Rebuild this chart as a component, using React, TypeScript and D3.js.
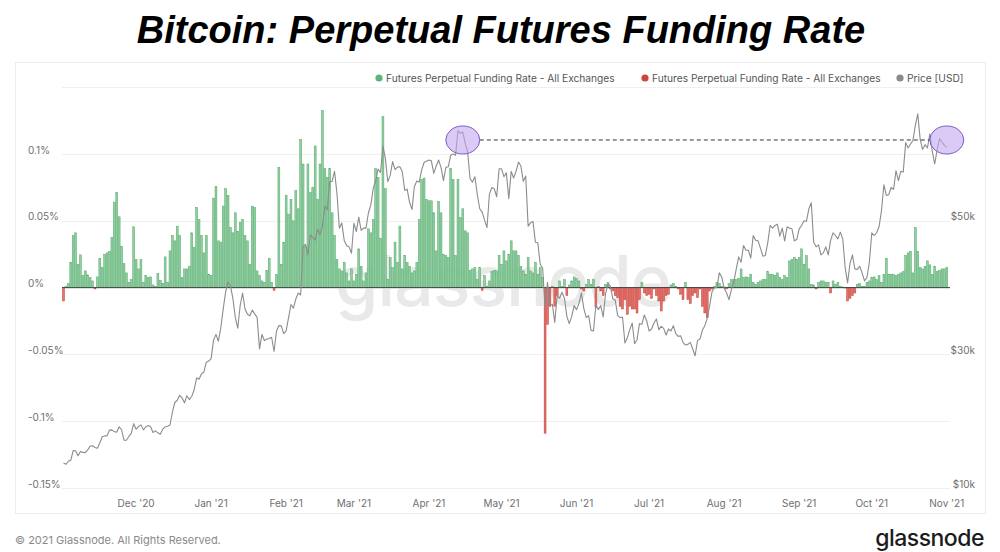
import React, { useEffect, useRef } from 'react';
import * as d3 from 'd3';

// Daily funding rate (%), one array per month
const fundingNov20 = [-0.010, 0.001, 0.003, 0.019, 0.039, 0.041, 0.0175, 0.0245, 0.009, 0.0125, 0.0095, 0.0075, 0.005, -0.001, 0.008, 0.022, 0.015, 0.025, 0.026, 0.027, 0.0375, 0.064, 0.071, 0.053, 0.031, 0.018, 0.011, 0.004, 0.006, 0.0455];
const fundingDec20 = [0.021, 0.014, 0.021, 0.004, 0.009, 0.0075, 0.008, 0.002, 0.001, 0.0105, 0.0055, 0.003, 0.023, 0.004, 0.0275, 0.039, 0.035, 0.046, 0.039, 0.0075, 0.014, 0.014, 0.016, 0.041, 0.030, 0.060, 0.051, 0.039, 0.026, 0.039, 0.010];
const fundingJan21 = [0.009, 0.067, 0.0755, 0.035, 0.034, 0.061, 0.074, 0.069, 0.045, 0.041, 0.056, 0.042, 0.049, 0.051, 0.039, 0.035, 0.0175, 0.061, 0.060, 0.0125, 0.009, 0.005, 0.004, 0.013, 0.022, 0.004, -0.002, 0.010, 0.090, 0.0175, 0.034];
const fundingFeb21 = [0.069, 0.055, 0.066, 0.050, 0.0725, 0.059, 0.111, 0.0925, 0.031, 0.0925, 0.071, 0.075, 0.106, 0.066, 0.0925, 0.1325, 0.089, 0.0825, 0.089, 0.056, 0.039, 0.021, 0.014, 0.0125, 0.019, 0.011, 0.005, 0.014];
const fundingMar21 = [0.005, 0.010, 0.029, 0.016, 0.005, 0.011, 0.044, 0.041, 0.051, 0.089, 0.0825, 0.037, 0.128, 0.074, 0.006, 0.0225, 0.015, 0.034, 0.019, 0.046, 0.014, 0.024, 0.019, 0.016, 0.011, 0.0125, 0.019, 0.051, 0.081, 0.082, 0.066];
const fundingApr21 = [0.065, 0.065, 0.056, 0.0275, 0.0645, 0.056, 0.025, 0.024, 0.0225, 0.089, 0.081, 0.024, 0.081, 0.0525, 0.059, 0.0425, 0.041, 0.013, 0.014, 0.015, 0.006, 0.015, -0.002, 0.009, 0.001, 0.005, 0.012, 0.013, 0.0125, 0.024];
const fundingMay21 = [0.0175, 0.0275, 0.020, 0.025, 0.035, 0.0275, 0.0275, 0.024, 0.016, 0.0125, 0.010, 0.0225, 0.0125, 0.011, 0.019, 0.010, 0.015, 0.0075, -0.109, -0.0275, -0.014, 0.001, -0.014, -0.006, 0.005, 0.001, 0.006, -0.006, 0.002, 0.005, 0.008];
const fundingJun21 = [0.007, 0.005, -0.001, -0.0025, 0.0025, 0.006, 0.0025, 0.006, -0.015, 0.001, -0.0025, -0.006, 0.0025, 0.004, -0.001, -0.0025, -0.006, -0.0075, -0.014, -0.016, -0.009, -0.020, -0.014, -0.016, -0.016, -0.019, -0.009, 0.004, -0.004, -0.006];
const fundingJul21 = [-0.005, -0.008, -0.001, -0.006, -0.010, -0.0175, -0.010, -0.006, -0.005, 0.002, 0.003, 0.001, -0.001, -0.005, -0.009, 0.004, -0.009, -0.012, -0.006, -0.004, -0.0075, -0.001, -0.014, -0.019, -0.0225, -0.0025, -0.001, 0.001, 0.004, 0.003, 0.001];
const fundingAug21 = [0.0005, -0.001, 0.003, 0.006, 0.006, 0.006, 0.007, 0.014, 0.0075, 0.008, 0.0075, 0.010, 0.004, 0.0025, 0.004, 0.005, 0.006, 0.006, 0.012, 0.010, 0.010, 0.009, 0.011, 0.0075, 0.006, 0.009, 0.0075, 0.020, 0.021, 0.0225, 0.021];
const fundingSep21 = [0.0225, 0.029, 0.0175, 0.024, 0.014, 0.0025, 0.002, -0.001, 0.004, 0.005, 0.005, 0.004, 0.004, -0.004, 0.005, 0.0025, 0.004, 0.001, 0.0005, -0.0003, -0.010, -0.008, -0.006, -0.004, 0.0025, 0.003, 0.001, 0.001, 0.004, 0.005];
const fundingOct21 = [0.0075, 0.008, 0.006, 0.009, 0.004, 0.010, 0.022, 0.010, 0.010, 0.010, 0.009, 0.010, 0.011, 0.012, 0.024, 0.026, 0.027, 0.011, 0.045, 0.027, 0.015, 0.014, 0.016, 0.020, 0.017, 0.010, 0.016, 0.012, 0.013, 0.014, 0.014];
const fundingNov21 = [0.015];

// Daily BTC price ($k), one array per month
const priceNov20 = [13.74, 13.55, 14.0, 14.15, 15.59, 15.58, 14.83, 15.48, 15.33, 15.3, 15.7, 16.28, 16.32, 16.07, 15.96, 16.73, 17.66, 17.8, 17.82, 18.66, 18.7, 18.41, 18.37, 19.16, 18.72, 17.15, 17.14, 17.72, 18.18, 19.63];
const priceDec20 = [18.8, 19.2, 19.45, 18.7, 19.15, 19.36, 19.17, 18.32, 18.55, 18.26, 18.06, 18.8, 19.14, 19.25, 19.43, 21.38, 22.8, 23.14, 23.87, 23.48, 22.75, 23.82, 23.24, 23.73, 24.71, 26.49, 26.28, 27.08, 27.36, 28.84, 29.0];
const priceJan21 = [29.37, 32.13, 33.0, 31.97, 33.99, 36.82, 39.37, 40.8, 40.25, 38.36, 35.5, 33.92, 37.32, 39.19, 36.83, 36.02, 35.79, 36.63, 36.07, 35.55, 30.83, 32.99, 32.07, 32.29, 32.37, 32.57, 30.43, 33.47, 34.32, 34.27, 33.11];
const priceFeb21 = [33.52, 35.51, 37.47, 36.93, 38.29, 39.19, 38.9, 46.2, 46.48, 44.92, 47.91, 47.5, 47.1, 48.72, 47.94, 49.2, 52.15, 51.68, 55.89, 55.89, 57.41, 54.09, 48.89, 49.68, 47.06, 46.28, 46.1, 45.14];
const priceMar21 = [49.63, 48.38, 50.54, 48.56, 48.93, 48.91, 51.21, 52.38, 54.88, 55.96, 57.75, 57.23, 61.2, 59.34, 55.86, 56.8, 58.87, 57.65, 58.03, 58.1, 57.35, 54.53, 54.74, 52.77, 51.7, 55.14, 55.97, 55.78, 57.63, 58.73, 58.92];
const priceApr21 = [59.1, 59.0, 57.1, 58.2, 59.1, 58.0, 56.0, 58.0, 58.1, 59.8, 60.0, 59.8, 63.5, 63.1, 63.3, 61.6, 60.3, 56.3, 55.8, 56.6, 53.9, 51.8, 51.3, 50.1, 49.0, 54.0, 55.0, 54.8, 53.6, 57.8];
const priceMay21 = [57.8, 56.6, 57.2, 53.3, 57.4, 56.4, 57.4, 58.8, 58.2, 55.9, 56.7, 49.2, 49.7, 49.9, 46.8, 46.7, 43.5, 42.9, 37.0, 40.8, 37.3, 37.5, 34.8, 38.8, 38.4, 39.3, 38.4, 35.7, 34.6, 35.7, 37.3];
const priceJun21 = [36.7, 37.6, 39.2, 36.9, 35.5, 35.8, 33.6, 33.5, 37.4, 36.7, 37.3, 35.6, 39.1, 40.5, 40.2, 38.3, 38.1, 35.8, 35.5, 35.6, 31.7, 32.5, 33.7, 34.7, 31.6, 32.2, 34.6, 34.5, 35.9, 35.0];
const priceJul21 = [33.5, 33.8, 34.7, 35.3, 33.7, 34.2, 33.9, 32.9, 33.8, 33.5, 34.3, 33.1, 32.7, 32.8, 31.8, 31.4, 31.5, 31.8, 30.8, 29.8, 32.1, 32.3, 33.6, 34.3, 35.4, 37.3, 39.4, 40.0, 40.0, 42.2, 41.6];
const priceAug21 = [39.9, 39.2, 38.2, 39.7, 40.9, 42.8, 44.6, 43.8, 46.3, 45.6, 45.6, 44.4, 47.8, 47.1, 47.0, 45.9, 44.7, 44.8, 46.7, 49.3, 48.9, 49.3, 49.5, 47.7, 48.9, 47.0, 49.1, 48.9, 48.8, 47.0, 47.2];
const priceSep21 = [48.8, 49.3, 50.0, 49.9, 51.8, 52.7, 46.8, 46.1, 46.4, 44.9, 45.2, 46.1, 44.9, 47.1, 48.2, 47.8, 47.3, 48.3, 47.3, 43.0, 40.7, 43.6, 44.9, 42.8, 42.7, 43.2, 42.2, 41.0, 41.5, 43.8];
const priceOct21 = [48.2, 47.8, 48.2, 49.1, 51.5, 55.4, 53.8, 53.9, 55.0, 54.7, 57.5, 56.0, 57.4, 57.3, 61.7, 60.9, 61.5, 62.0, 64.3, 66.0, 62.2, 60.7, 61.4, 60.9, 63.0, 60.4, 58.5, 60.6, 62.3, 61.8, 61.3];
const priceNov21 = [61.0];

const fundingMonths = [fundingNov20, fundingDec20, fundingJan21, fundingFeb21, fundingMar21, fundingApr21, fundingMay21, fundingJun21, fundingJul21, fundingAug21, fundingSep21, fundingOct21, fundingNov21];
const priceMonths = [priceNov20, priceDec20, priceJan21, priceFeb21, priceMar21, priceApr21, priceMay21, priceJun21, priceJul21, priceAug21, priceSep21, priceOct21, priceNov21];

const rateTicks = [-0.15, -0.1, -0.05, 0, 0.05, 0.1, 0.15];
const rateTickLabels = ['-0.15%', '-0.1%', '-0.05%', '0%', '0.05%', '0.1%', ''];
const priceTicks = [10, 30, 50];
const priceTickLabels = ['$10k', '$30k', '$50k'];
const monthLabels = ["Dec '20", "Jan '21", "Feb '21", "Mar '21", "Apr '21", "May '21", "Jun '21", "Jul '21", "Aug '21", "Sep '21", "Oct '21", "Nov '21"];

const legendLabels = ['Futures Perpetual Funding Rate - All Exchanges', 'Futures Perpetual Funding Rate - All Exchanges', 'Price [USD]'];
const legendColors = ['#5fb479', '#d2413b', '#8a8a8a'];

// highlighted price level (in $k) and the two days it is compared on
const markedPrice = 62.1;
const markedDays = [new Date(2021, 3, 15), new Date(2021, 10, 1)];

const startDate = new Date(2020, 10, 1);
const endDate = new Date(2021, 10, 1);

const FONT = 'Inter, "Noto Sans", sans-serif';

const FundingChart: React.FC = () => {
  const svgRef = useRef<SVGSVGElement>(null);

  useEffect(() => {
    if (!svgRef.current) return;
    const svg = d3.select(svgRef.current);
    svg.selectAll('*').remove();

    const funding = fundingMonths.flat().map((v, i) => ({ date: d3.timeDay.offset(startDate, i), value: v }));
    const price = priceMonths.flat().map((v, i) => ({ date: d3.timeDay.offset(startDate, i), value: v }));

    const plotLeft = 62;
    const plotRight = 950;

    const x = d3.scaleTime().domain([startDate, endDate]).range([63.5, 946.8]);
    const y = d3.scaleLinear().domain([-0.15, 0.15]).range([488, 87.2]);
    const yPrice = d3.scaleLinear().domain([10, 70]).range([488, 87.2]);

    // panel
    svg.append('rect')
      .attr('x', 15.5).attr('y', 62.5)
      .attr('width', 970).attr('height', 451)
      .attr('fill', '#fff')
      .attr('stroke', '#ececec');

    // gridlines
    svg.append('g')
      .selectAll('line')
      .data(rateTicks)
      .enter()
      .append('line')
      .attr('x1', plotLeft).attr('x2', plotRight)
      .attr('y1', d => Math.round(y(d)) + 0.5)
      .attr('y2', d => Math.round(y(d)) + 0.5)
      .attr('stroke', '#f0f0f0');

    // watermark
    svg.append('text')
      .attr('x', 503).attr('y', 306)
      .attr('text-anchor', 'middle')
      .style('font-family', FONT)
      .style('font-size', '70px')
      .style('font-weight', 500)
      .style('letter-spacing', '-1px')
      .attr('fill', '#e9e9e9')
      .text('glassnode');

    // funding bars
    const barW = 1.9;
    svg.append('g')
      .selectAll('rect')
      .data(funding)
      .enter()
      .append('rect')
      .attr('x', d => x(d.date) - barW / 2)
      .attr('y', d => Math.min(y(d.value), y(0)))
      .attr('width', barW)
      .attr('height', d => Math.abs(y(d.value) - y(0)))
      .attr('fill', d => (d.value >= 0 ? '#8fcf9f' : '#e4726c'))
      .attr('stroke', d => (d.value >= 0 ? '#55a86d' : '#c73a33'))
      .attr('stroke-width', 0.5);

    // zero baseline
    svg.append('line')
      .attr('x1', plotLeft).attr('x2', plotRight)
      .attr('y1', y(0)).attr('y2', y(0))
      .attr('stroke', '#444')
      .attr('stroke-width', 1);

    // price line
    const line = d3.line<{ date: Date; value: number }>()
      .x(d => x(d.date))
      .y(d => yPrice(d.value));
    svg.append('path')
      .datum(price)
      .attr('d', line)
      .attr('fill', 'none')
      .attr('stroke', '#8c8c8c')
      .attr('stroke-width', 1.1)
      .attr('stroke-linejoin', 'round');

    // annotation: dashed level between the two circled highs
    const rx = 17;
    const ry = 14;
    const my = yPrice(markedPrice);
    svg.append('line')
      .attr('x1', x(markedDays[0]) + rx).attr('x2', x(markedDays[1]) - rx)
      .attr('y1', my).attr('y2', my)
      .attr('stroke', '#333')
      .attr('stroke-width', 1)
      .attr('stroke-dasharray', '4,3');

    svg.append('g')
      .selectAll('ellipse')
      .data(markedDays)
      .enter()
      .append('ellipse')
      .attr('cx', d => x(d))
      .attr('cy', my)
      .attr('rx', rx).attr('ry', ry)
      .attr('fill', 'rgba(196,166,240,0.6)')
      .attr('stroke', '#7d5cc6')
      .attr('stroke-width', 1);

    // left axis labels
    svg.append('g')
      .selectAll('text')
      .data(rateTicks)
      .enter()
      .append('text')
      .attr('x', 28)
      .attr('y', d => y(d) - 0.5)
      .style('font-family', FONT)
      .style('font-size', '10px')
      .attr('fill', '#6f6f6f')
      .text((_, i) => rateTickLabels[i]);

    // right axis labels
    svg.append('g')
      .selectAll('text')
      .data(priceTicks)
      .enter()
      .append('text')
      .attr('x', 975)
      .attr('y', d => yPrice(d) - 0.5)
      .attr('text-anchor', 'end')
      .style('font-family', FONT)
      .style('font-size', '10px')
      .attr('fill', '#6f6f6f')
      .text((_, i) => priceTickLabels[i]);

    // x axis labels
    const monthTicks = d3.timeMonth.range(new Date(2020, 11, 1), new Date(2021, 10, 2));
    svg.append('g')
      .selectAll('text')
      .data(monthTicks)
      .enter()
      .append('text')
      .attr('x', d => x(d))
      .attr('y', 507)
      .attr('text-anchor', 'middle')
      .style('font-family', FONT)
      .style('font-size', '10px')
      .attr('fill', '#6f6f6f')
      .text((_, i) => monthLabels[i]);

    // legend
    const legendX = [379, 645, 900];
    const legend = svg.append('g');
    legendLabels.forEach((label, i) => {
      legend.append('circle')
        .attr('cx', legendX[i]).attr('cy', 78)
        .attr('r', 3.6)
        .attr('fill', legendColors[i]);
      legend.append('text')
        .attr('x', legendX[i] + 7).attr('y', 81.5)
        .style('font-family', FONT)
        .style('font-size', '10.2px')
        .attr('fill', '#555')
        .text(label);
    });

    // title
    svg.append('text')
      .attr('x', 501).attr('y', 43)
      .attr('text-anchor', 'middle')
      .style('font-family', '"Liberation Sans", Arial, sans-serif')
      .style('font-size', '38px')
      .style('font-weight', 'bold')
      .style('font-style', 'italic')
      .attr('fill', '#000')
      .text('Bitcoin: Perpetual Futures Funding Rate');

    // footer
    svg.append('text')
      .attr('x', 15).attr('y', 544)
      .style('font-family', FONT)
      .style('font-size', '11px')
      .attr('fill', '#8a8a8a')
      .text('© 2021 Glassnode. All Rights Reserved.');

    svg.append('text')
      .attr('x', 984).attr('y', 546)
      .attr('text-anchor', 'end')
      .style('font-family', FONT)
      .style('font-size', '23px')
      .style('font-weight', 500)
      .style('letter-spacing', '-0.5px')
      .attr('fill', '#1c1c1c')
      .text('glassnode');
  }, []);

  return (
    <div style={{ position: 'absolute', left: 0, top: 0, width: 1000, height: 552, background: '#fff' }}>
      <svg ref={svgRef} width={1000} height={552} style={{ display: 'block' }} />
    </div>
  );
};

export default function App() {
  return <FundingChart />;
}
